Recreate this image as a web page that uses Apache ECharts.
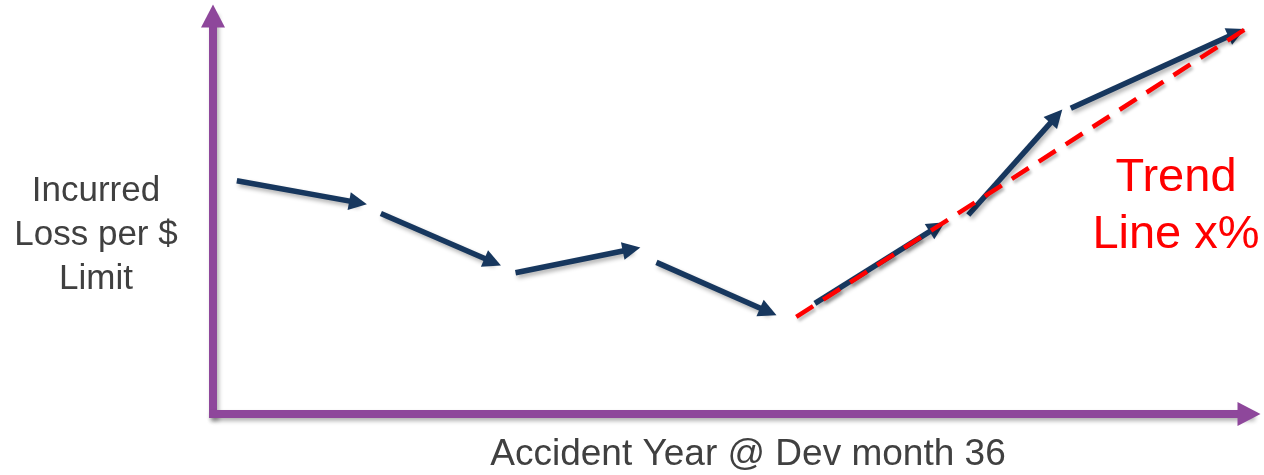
<!DOCTYPE html>
<html>
<head>
<meta charset="utf-8">
<script src="https://cdn.jsdelivr.net/npm/echarts@6/dist/echarts.min.js"></script>
<style>
html,body{margin:0;padding:0;background:#fff;}
#chart{width:1264px;height:475px;}
</style>
</head>
<body>
<div id="chart"></div>
<script>
// Arrow segments (start -> end), in chart value units
var segStartX = [2.3, 16.2, 29.2, 42.8, 58.1, 72.9, 82.8];
var segStartY = [58.6, 50.4, 35.5, 38.1, 27.8, 50.0, 76.8];
var segEndX   = [14.0, 27.0, 40.4, 53.6, 69.9, 81.4, 98.8];
var segEndY   = [53.1, 38.2, 41.4, 25.7, 47.0, 74.8, 95.8];
// Trend line end points
var trendX = [56.3, 99.6];
var trendY = [24.4, 96.6];
// Texts
var xAxisTitle = 'Accident Year @ Dev month 36';
var yAxisTitle = 'Incurred\nLoss per $\nLimit';
var trendLabel = 'Trend\nLine x%';

var purple = '#8e479b';
var navy = '#17375e';
var font = "'Liberation Sans', Arial, sans-serif";

var segData = segStartX.map(function (x, i) {
  return { coords: [[x, segStartY[i]], [segEndX[i], segEndY[i]]] };
});
var trendData = trendX.map(function (x, i) { return [x, trendY[i]]; });

var axisLineStyle = {
  color: purple, width: 8, cap: 'square',
  shadowColor: 'rgba(0,0,0,0.3)', shadowBlur: 4, shadowOffsetX: 2, shadowOffsetY: 3
};

var chart = echarts.init(document.getElementById('chart'));
chart.setOption({
  animation: false,
  backgroundColor: '#ffffff',
  grid: { left: 213, right: 15, top: 16, bottom: 61, containLabel: false, outerBoundsMode: 'none' },
  xAxis: {
    type: 'value', min: 0, max: 100,
    axisLine: { show: true, symbol: ['none', 'triangle'], symbolSize: [24, 23], lineStyle: axisLineStyle },
    axisTick: { show: false }, axisLabel: { show: false }, splitLine: { show: false }
  },
  yAxis: {
    type: 'value', min: 0, max: 100,
    axisLine: { show: true, symbol: ['none', 'triangle'], symbolSize: [24, 23], lineStyle: axisLineStyle },
    axisTick: { show: false }, axisLabel: { show: false }, splitLine: { show: false }
  },
  graphic: [{
    type: 'text', x: 96, y: 235, z: 10,
    style: { text: yAxisTitle, fill: '#404040', fontSize: 35, lineHeight: 44, fontFamily: font,
      align: 'center', verticalAlign: 'middle' }
  }, {
    type: 'text', x: 748, y: 455, z: 10,
    style: { text: xAxisTitle, fill: '#404040', fontSize: 37, fontFamily: font,
      align: 'center', verticalAlign: 'middle' }
  }, {
    type: 'text', x: 1176, y: 207, z: 10,
    style: { text: trendLabel, fill: '#ff0000', fontSize: 47, lineHeight: 57, fontFamily: font,
      align: 'center', verticalAlign: 'middle' }
  }],
  series: [{
    type: 'lines', coordinateSystem: 'cartesian2d', clip: false,
    data: segData,
    symbol: ['none', 'triangle'], symbolSize: 18,
    lineStyle: { color: navy, width: 5.5, opacity: 1, curveness: 0,
      shadowColor: 'rgba(0,0,0,0.3)', shadowBlur: 4, shadowOffsetX: 2, shadowOffsetY: 3 },
    itemStyle: { color: navy },
    z: 3
  }, {
    type: 'line', data: trendData, symbol: 'none', clip: false,
    lineStyle: { color: '#ff0000', width: 4.5, type: [20, 12],
      shadowColor: 'rgba(0,0,0,0.25)', shadowBlur: 3, shadowOffsetX: 2, shadowOffsetY: 3 },
    z: 4
  }]
});
</script>
</body>
</html>
